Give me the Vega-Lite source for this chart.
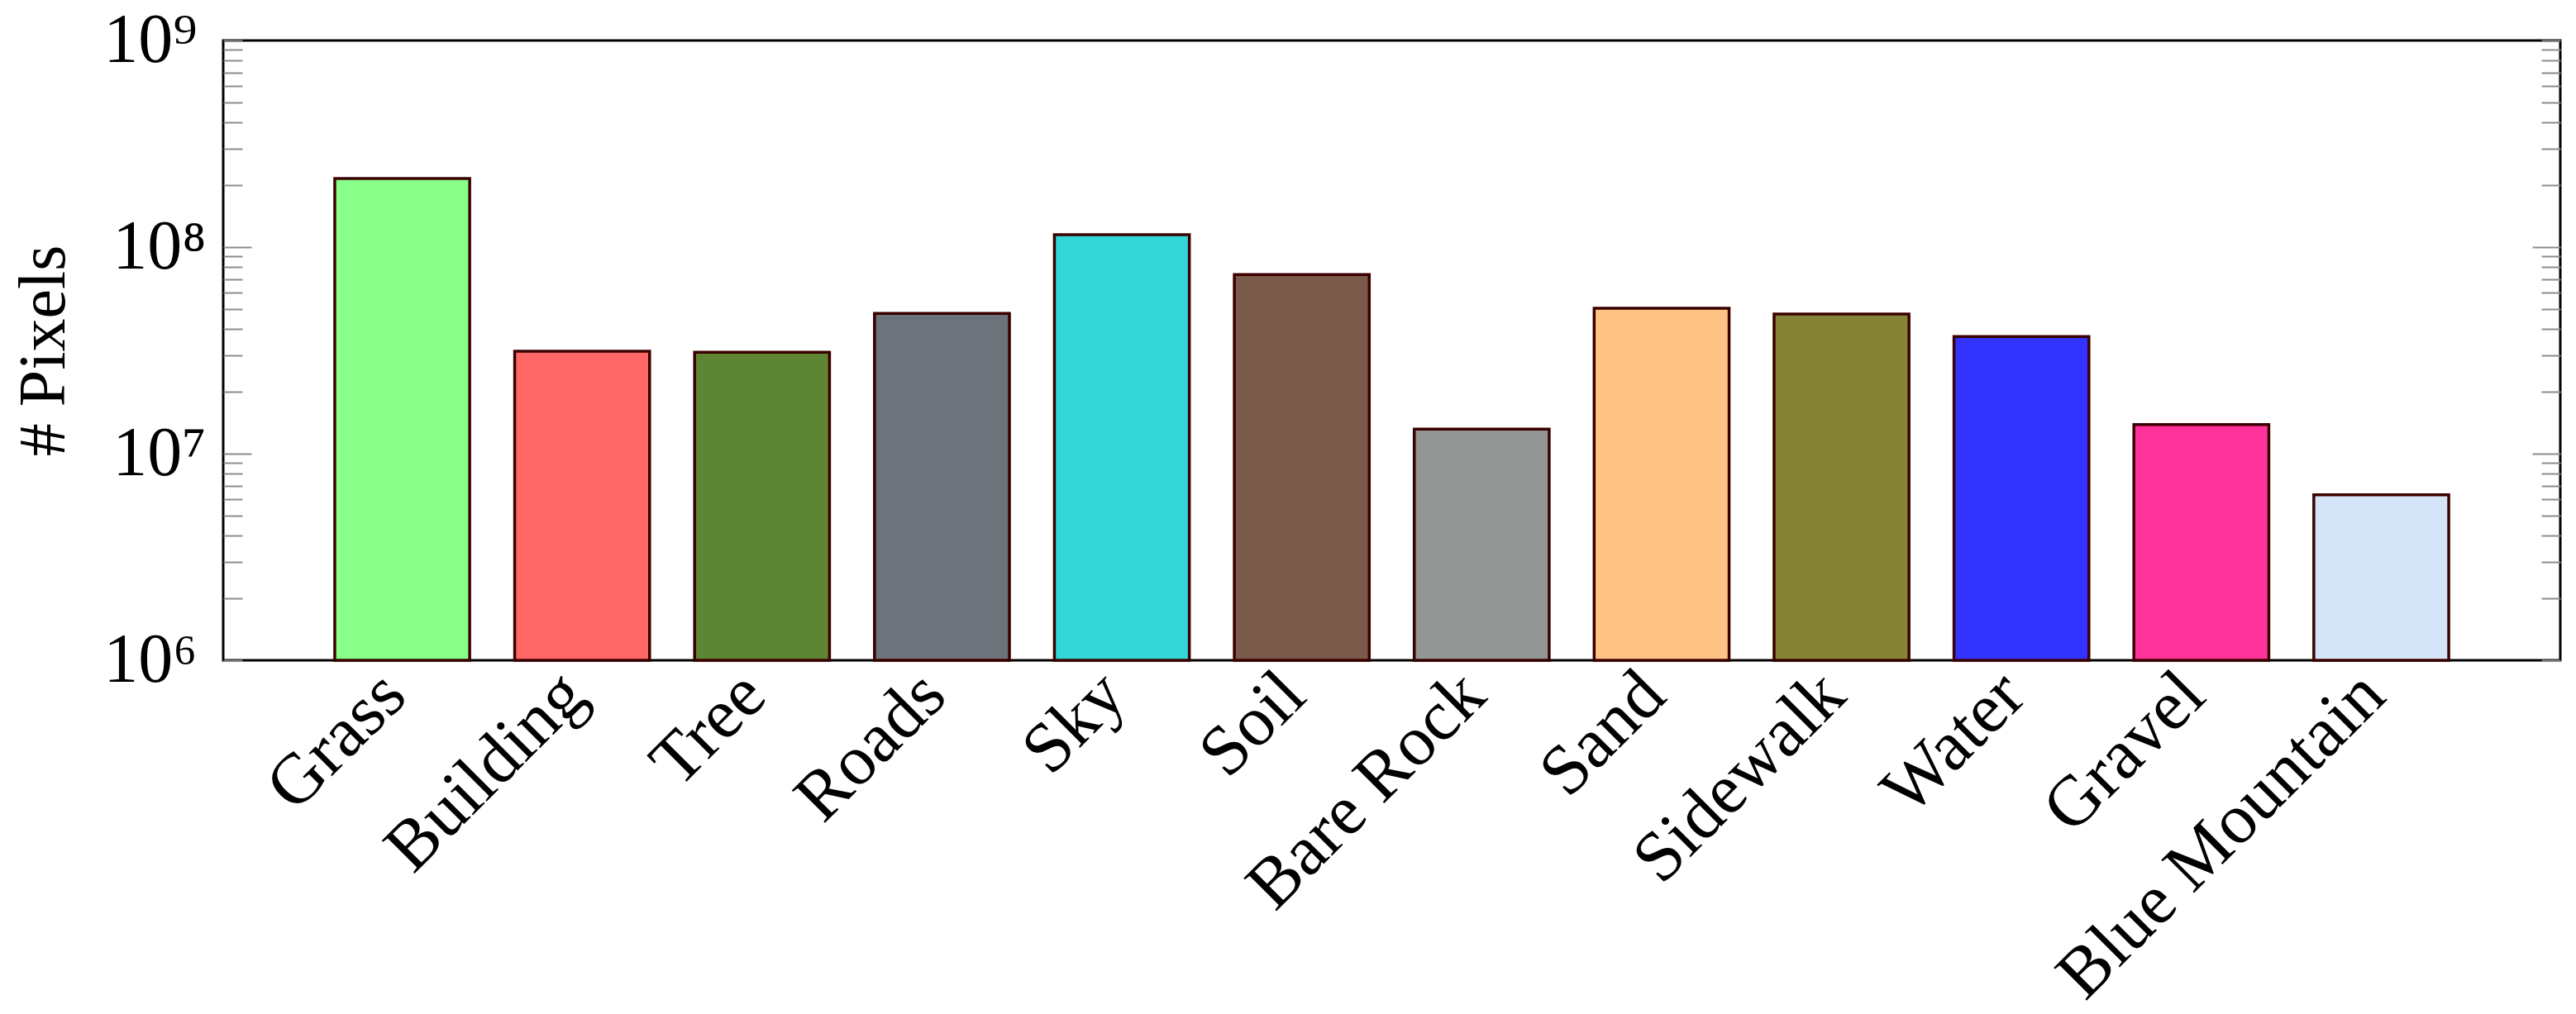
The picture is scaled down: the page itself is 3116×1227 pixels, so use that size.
{
  "$schema": "https://vega.github.io/schema/vega-lite/v6.json",
  "width": 2827,
  "height": 750,
  "autosize": {"type": "none"},
  "padding": {"left": 270, "top": 49, "right": 19, "bottom": 428},
  "background": "white",
  "config": {
    "view": {"stroke": "black", "strokeWidth": 3},
    "font": "Liberation Serif"
  },
  "data": {
    "values": [
      {"category": "Grass", "pixels": 215000000},
      {"category": "Building", "pixels": 31300000},
      {"category": "Tree", "pixels": 31000000},
      {"category": "Roads", "pixels": 47800000},
      {"category": "Sky", "pixels": 114800000},
      {"category": "Soil", "pixels": 73700000},
      {"category": "Bare Rock", "pixels": 13150000},
      {"category": "Sand", "pixels": 50600000},
      {"category": "Sidewalk", "pixels": 47400000},
      {"category": "Water", "pixels": 36900000},
      {"category": "Gravel", "pixels": 13840000},
      {"category": "Blue Mountain", "pixels": 6330000}
    ]
  },
  "encoding": {
    "x": {
      "field": "category",
      "type": "nominal",
      "sort": null,
      "scale": {"paddingInner": 0.25, "paddingOuter": 0.62},
      "axis": {
        "title": null,
        "labelAngle": -45,
        "labelAlign": "right",
        "labelBaseline": "middle",
        "labelFont": "Liberation Serif",
        "labelFontSize": 86,
        "labelColor": "black",
        "labelPadding": 28,
        "labelOffset": -10,
        "labelLimit": 0,
        "labelOverlap": false,
        "ticks": false,
        "domain": false,
        "grid": false
      }
    }
  },
  "layer": [
    {
      "mark": {"type": "bar", "stroke": "#3a0000", "strokeWidth": 3.5},
      "encoding": {
        "y": {
          "field": "pixels",
          "type": "quantitative",
          "scale": {"type": "log", "domain": [1000000, 1000000000], "nice": false},
          "axis": {
            "orient": "left",
            "title": "# Pixels",
            "titleFont": "Liberation Serif",
            "titleFontSize": 80,
            "titleFontWeight": "normal",
            "titleColor": "black",
            "titlePadding": 30,
            "values": [1000000, 2000000, 3000000, 4000000, 5000000, 6000000, 7000000, 8000000, 9000000, 10000000, 20000000, 30000000, 40000000, 50000000, 60000000, 70000000, 80000000, 90000000, 100000000, 200000000, 300000000, 400000000, 500000000, 600000000, 700000000, 800000000, 900000000, 1000000000],
            "labelExpr": "datum.value == 1000000000 ? '10⁹' : datum.value == 100000000 ? '10⁸' : datum.value == 10000000 ? '10⁷' : datum.value == 1000000 ? '10⁶' : ''",
            "labelFont": "Liberation Serif",
            "labelFontSize": 84,
            "labelColor": "black",
            "labelPadding": 55,
            "labelFlush": false,
            "labelOverlap": false,
            "tickSize": {"condition": {"test": "datum.value == 10000000 || datum.value == 100000000", "value": -34}, "value": -23},
            "tickColor": "#8c8c8c",
            "tickWidth": 2,
            "domain": false,
            "grid": false
          }
        },
        "y2": {"datum": 1000000},
        "color": {
          "field": "category",
          "type": "nominal",
          "legend": null,
          "scale": {
            "domain": ["Grass", "Building", "Tree", "Roads", "Sky", "Soil", "Bare Rock", "Sand", "Sidewalk", "Water", "Gravel", "Blue Mountain"],
            "range": ["#88ff88", "#ff6666", "#5e8534", "#6c737a", "#33d6d6", "#7a5a4a", "#949595", "#ffc285", "#858436", "#3333ff", "#ff3399", "#d4e5f8"]
          }
        }
      }
    },
    {
      "mark": {"type": "bar", "opacity": 0},
      "encoding": {
        "y": {
          "field": "pixels",
          "type": "quantitative",
          "axis": {
            "orient": "right",
            "title": null,
            "values": [1000000, 2000000, 3000000, 4000000, 5000000, 6000000, 7000000, 8000000, 9000000, 10000000, 20000000, 30000000, 40000000, 50000000, 60000000, 70000000, 80000000, 90000000, 100000000, 200000000, 300000000, 400000000, 500000000, 600000000, 700000000, 800000000, 900000000, 1000000000],
            "labels": false,
            "tickSize": {"condition": {"test": "datum.value == 10000000 || datum.value == 100000000", "value": -34}, "value": -23},
            "tickColor": "#8c8c8c",
            "tickWidth": 2,
            "domain": false,
            "grid": false
          }
        },
        "y2": {"datum": 1000000}
      }
    }
  ],
  "resolve": {"axis": {"y": "independent"}}
}
